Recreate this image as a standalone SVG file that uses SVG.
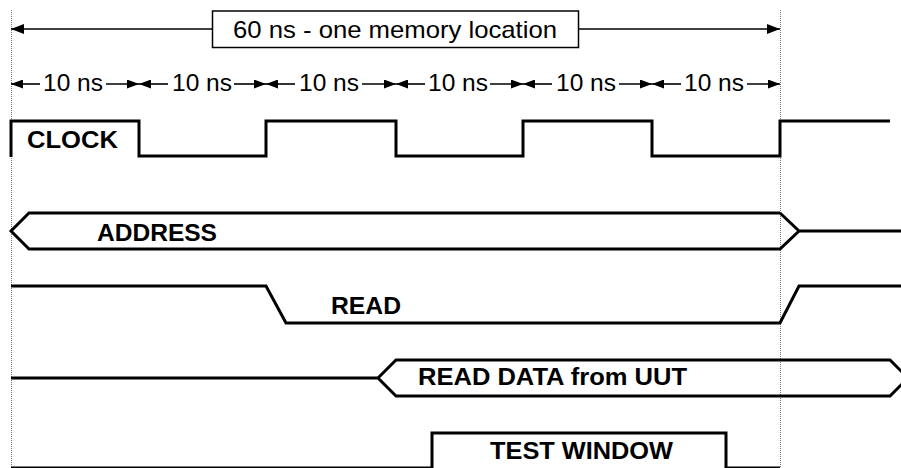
<svg xmlns="http://www.w3.org/2000/svg" width="901" height="468" viewBox="0 0 901 468">
  <style>
    .sig { fill: none; stroke: #000; stroke-width: 3; stroke-linejoin: miter; }
    .dim { fill: none; stroke: #000; stroke-width: 1.6; }
    .guide { fill: none; stroke: #777; stroke-width: 1; stroke-dasharray: 1 1; }
    .lbl { font-family: "Liberation Sans", Arial, sans-serif; font-size: 23px; fill: #000; }
    .big { font-size: 24px; }
    .bold { font-weight: bold; }
  </style>
  <defs>
    <marker id="headA" viewBox="0 0 12 9" refX="12" refY="4.5" markerWidth="12" markerHeight="9" markerUnits="userSpaceOnUse" orient="auto">
      <path d="M0,0 L12,4.5 L0,9 Z" fill="#000"/>
    </marker>
    <marker id="headB" viewBox="0 0 13 10" refX="13" refY="5" markerWidth="13" markerHeight="10" markerUnits="userSpaceOnUse" orient="auto">
      <path d="M0,0 L13,5 L0,10 Z" fill="#000"/>
    </marker>
  </defs>
  <rect width="901" height="468" fill="#fff"/>

  <!-- cycle boundaries -->
  <g id="guides">
    <line class="guide" x1="11.5" y1="10" x2="11.5" y2="468"/>
    <line class="guide" x1="780.5" y1="10" x2="780.5" y2="468"/>
  </g>

  <!-- dimension arrows -->
  <g id="connectors">
    <line class="dim" x1="212" y1="29" x2="11" y2="29" marker-end="url(#headB)"/>
    <line class="dim" x1="579" y1="29" x2="780" y2="29" marker-end="url(#headB)"/>

    <line class="dim" x1="40" y1="84" x2="11" y2="84" marker-end="url(#headA)"/>
    <line class="dim" x1="106" y1="84" x2="139" y2="84" marker-end="url(#headA)"/>
    <line class="dim" x1="168" y1="84" x2="139" y2="84" marker-end="url(#headA)"/>
    <line class="dim" x1="234" y1="84" x2="266" y2="84" marker-end="url(#headA)"/>
    <line class="dim" x1="295" y1="84" x2="266" y2="84" marker-end="url(#headA)"/>
    <line class="dim" x1="362" y1="84" x2="396" y2="84" marker-end="url(#headA)"/>
    <line class="dim" x1="425" y1="84" x2="396" y2="84" marker-end="url(#headA)"/>
    <line class="dim" x1="490" y1="84" x2="523" y2="84" marker-end="url(#headA)"/>
    <line class="dim" x1="552" y1="84" x2="523" y2="84" marker-end="url(#headA)"/>
    <line class="dim" x1="619" y1="84" x2="652" y2="84" marker-end="url(#headA)"/>
    <line class="dim" x1="681" y1="84" x2="652" y2="84" marker-end="url(#headA)"/>
    <line class="dim" x1="747" y1="84" x2="780" y2="84" marker-end="url(#headA)"/>
  </g>

  <g id="period">
    <rect x="212.5" y="11" width="366" height="36.5" fill="#fff" stroke="#000" stroke-width="1.5"/>
    <text class="lbl big" x="233" y="38" textLength="324" lengthAdjust="spacingAndGlyphs">60 ns - one memory location</text>
  </g>

  <g id="ticks">
    <text class="lbl big" x="43" y="91" textLength="60" lengthAdjust="spacingAndGlyphs">10 ns</text>
    <text class="lbl big" x="172" y="91" textLength="60" lengthAdjust="spacingAndGlyphs">10 ns</text>
    <text class="lbl big" x="299" y="91" textLength="60" lengthAdjust="spacingAndGlyphs">10 ns</text>
    <text class="lbl big" x="428" y="91" textLength="60" lengthAdjust="spacingAndGlyphs">10 ns</text>
    <text class="lbl big" x="556" y="91" textLength="60" lengthAdjust="spacingAndGlyphs">10 ns</text>
    <text class="lbl big" x="684" y="91" textLength="60" lengthAdjust="spacingAndGlyphs">10 ns</text>
  </g>

  <g id="clock">
    <path class="sig" d="M11,157 L11,121 L139,121 L139,156 L266,156 L266,121 L396,121 L396,156 L523,156 L523,121 L652,121 L652,156 L780,156 L780,121 L890,121"/>
    <text class="lbl bold" x="27" y="148" textLength="91" lengthAdjust="spacingAndGlyphs">CLOCK</text>
  </g>

  <g id="address">
    <path class="sig" d="M780,213 L29,213 L11,231 L29,249 L780,249 L799,231 L780,213 M799,231 L901,231"/>
    <text class="lbl bold" x="97" y="241" textLength="120" lengthAdjust="spacingAndGlyphs">ADDRESS</text>
  </g>

  <g id="read">
    <path class="sig" d="M11,286 L266,286 L286,323 L780,323 L799,286 L901,286"/>
    <text class="lbl bold" x="331" y="314" textLength="70" lengthAdjust="spacingAndGlyphs">READ</text>
  </g>

  <g id="read-data">
    <path class="sig" d="M11,378 L378,378 M378,378 L396,360 L890,360 L908,378 L890,396 L396,396 Z"/>
    <text class="lbl bold" x="418" y="385" textLength="269" lengthAdjust="spacingAndGlyphs">READ DATA from UUT</text>
  </g>

  <g id="test-window">
    <path class="sig" d="M11,468 L432,468 L432,433 L726,433 L726,468 L780,468"/>
    <text class="lbl bold" x="490" y="459" textLength="183" lengthAdjust="spacingAndGlyphs">TEST WINDOW</text>
  </g>
</svg>
